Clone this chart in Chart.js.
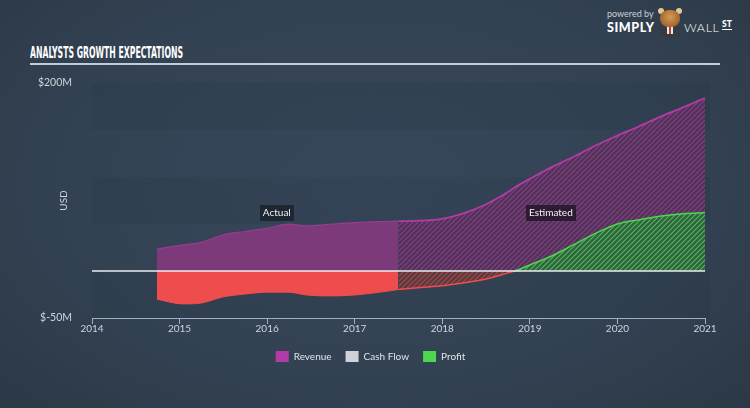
<!DOCTYPE html>
<html>
<head>
<meta charset="utf-8">
<script src="https://cdn.jsdelivr.net/npm/chart.js@4.4.1/dist/chart.umd.min.js"></script>
<style>
  html, body { margin: 0; padding: 0; }
  body {
    width: 750px; height: 408px; overflow: hidden; position: relative;
    background: radial-gradient(ellipse 75% 85% at 50% 45%, #37475a 0%, #334253 55%, #2a3743 100%);
    font-family: Lato, sans-serif;
  }
  #title {
    position: absolute; left: 30px; top: 43px; color: #fff; white-space: nowrap;
    font: bold 16px "Liberation Sans Narrow", "DejaVu Sans Condensed", sans-serif;
    transform-origin: 0 0;
  }
  #rule { position: absolute; left: 30px; top: 63px; width: 690px; height: 2px; background: #c3cbd4; }
  #logo { position: absolute; left: 607px; top: 6px; width: 140px; height: 34px; color: #fff; }
  #logo .pb { position: absolute; left: 0; top: 2px; font-size: 9px; color: #c9d0d8; }
  #logo .simply { position: absolute; left: 0; top: 14px; font: 900 12.5px Lato, sans-serif; letter-spacing: 0.6px; }
  #logo .wall { position: absolute; left: 77px; top: 14px; font: 300 12.5px Lato, sans-serif; letter-spacing: 0.6px; }
  #logo .st { position: absolute; left: 115px; top: 14px; font: 900 8.5px Lato, sans-serif; border-bottom: 1px solid #fff; line-height: 9px; }
  #logo .horn { position: absolute; top: 2px; width: 6px; height: 6px; border-radius: 50%; background: #e2c9a0; }
  #logo .head { position: absolute; left: 53px; top: 4px; width: 20px; height: 17px; border-radius: 45%; background: radial-gradient(circle at 50% 40%, #d49a55 0%, #a86a30 65%, #74461f 100%); }
  #logo .body { position: absolute; left: 53px; top: 19px; width: 20px; height: 12px; border-radius: 9px 9px 4px 4px; background: #353a43; }
  #logo .shirt { position: absolute; left: 60px; top: 19px; width: 6px; height: 9px; background: #e8e8e8; }
  #logo .tie { position: absolute; left: 62px; top: 20px; width: 2px; height: 8px; background: #c0392b; }
  #c { position: absolute; left: 0; top: 0; }
</style>
</head>
<body>
<div id="title">ANALYSTS GROWTH EXPECTATIONS</div>
<div id="rule"></div>
<div id="logo">
  <span class="pb">powered by</span>
  <span class="simply">SIMPLY</span>
  <div class="body"></div><div class="shirt"></div><div class="tie"></div>
  <div class="horn" style="left:51px"></div><div class="horn" style="left:69px"></div>
  <div class="head"></div>
  <span class="wall">WALL</span>
  <span class="st">ST</span>
</div>
<canvas id="c" width="750" height="408"></canvas>
<script>
// reported figures (USD millions)
const actualYears = [2014.74, 2015.04, 2015.25, 2015.5, 2015.75, 2016.0, 2016.25, 2016.45, 2016.75, 2017.0, 2017.25, 2017.5];
const revenueActual = [23.4, 27.7, 30.5, 38.5, 42, 45.5, 49.8, 48, 50, 51.5, 52.5, 53];
const profitActual = [-30, -35, -34, -27.5, -24.5, -22.5, -22.6, -25.5, -26.5, -25.5, -23, -19.6];

// analyst estimates
const estYears = [2017.5, 2017.75, 2018.0, 2018.25, 2018.5, 2018.75, 2018.83, 2019.0, 2019.25, 2019.5, 2019.75, 2020.0, 2020.25, 2020.5, 2020.75, 2021.0];
const revenueEst = [53, 53.5, 55.5, 61.5, 71, 84, 89, 98, 110.5, 121.5, 133.5, 144, 154, 164.5, 174, 184];
const profitEst = [-19.6, -17.6, -15.7, -12.5, -8.5, -2, 0, 6.4, 16, 28, 40, 50, 54.5, 58.5, 61, 62];
const cashFlow = [];

const legendNames = ["Revenue", "Cash Flow", "Profit"];
const yLabelValues = [200, -50];

const MAGENTA = "#b23ca6";
const PURPLE = "#7c3a7a";
const RED = "#ef4d4d";
const GREEN = "#4fd64f";
const GREY = "#cfd2d6";

// fit the condensed title to its width
const t = document.getElementById("title");
t.style.transform = "scaleX(" + (153 / t.scrollWidth) + ")";

const canvas = document.getElementById("c");
const ctx = canvas.getContext("2d");

function hatch(base, stripe) {
  const s = 5;
  const p = document.createElement("canvas");
  p.width = p.height = s;
  const g = p.getContext("2d");
  g.fillStyle = base;
  g.fillRect(0, 0, s, s);
  g.strokeStyle = stripe;
  g.lineWidth = 1.1;
  g.beginPath();
  g.moveTo(0, s); g.lineTo(s, 0);
  g.moveTo(-1, 1); g.lineTo(1, -1);
  g.moveTo(s - 1, s + 1); g.lineTo(s + 1, s - 1);
  g.stroke();
  return ctx.createPattern(p, "repeat");
}

const purpleHatch = hatch("#56305c", "#7d477d");
const redHatch = hatch("#5a3a3e", "#a84a4c");
const greenHatch = hatch("#2f6440", "#55b85a");

const pts = (xs, ys) => ys.map((y, i) => ({ x: xs[i], y }));

const bands = {
  id: "bands",
  beforeDatasetsDraw(chart) {
    const { ctx, chartArea: a, scales: { y } } = chart;
    ctx.save();
    [[200, 150], [100, 50], [0, -50]].forEach(([hi, lo]) => {
      const top = y.getPixelForValue(hi), bot = y.getPixelForValue(lo);
      ctx.fillStyle = "rgba(0,0,0,0.045)";
      ctx.fillRect(a.left, top, a.right - a.left + 5, bot - top);
    });
    ctx.restore();
  }
};

const overlay = {
  id: "overlay",
  afterDatasetsDraw(chart) {
    const { ctx, chartArea: a, scales: { x, y } } = chart;
    const y0 = y.getPixelForValue(0);
    ctx.save();
    ctx.strokeStyle = "#e8ecf0";
    ctx.lineWidth = 1.3;
    ctx.beginPath();
    ctx.moveTo(a.left, y0);
    ctx.lineTo(a.right, y0);
    ctx.stroke();

    ctx.font = "10px Lato, sans-serif";
    ctx.textAlign = "center";
    ctx.textBaseline = "middle";
    [["Actual", 2016.11, "#1d2631"], ["Estimated", 2019.24, "rgba(38,22,42,0.85)"]].forEach(([txt, xv, bg]) => {
      const cx = x.getPixelForValue(xv), cy = y.getPixelForValue(62);
      const w = ctx.measureText(txt).width + 6;
      ctx.fillStyle = bg;
      ctx.fillRect(Math.round(cx - w / 2), Math.round(cy - 8), Math.round(w), 16);
      ctx.fillStyle = "#f2f2f2";
      ctx.fillText(txt, cx, cy + 0.5);
    });
    ctx.restore();
  }
};

const chart = new Chart(canvas, {
  type: "line",
  data: {
    datasets: [
      {
        label: "Profit",
        data: pts(estYears, profitEst),
        borderColor: RED,
        borderWidth: 1.5,
        segment: { borderColor: (c) => (c.p1.parsed.y > 0 ? GREEN : RED) },
        fill: { target: "origin", above: greenHatch, below: redHatch },
        pointRadius: 0,
        cubicInterpolationMode: "monotone",
      },
      {
        label: "Profit",
        data: pts(actualYears, profitActual),
        borderColor: RED,
        borderWidth: 1,
        fill: { target: "origin", above: GREEN, below: RED },
        pointRadius: 0,
        cubicInterpolationMode: "monotone",
      },
      {
        label: "Revenue",
        data: pts(estYears, revenueEst),
        borderColor: MAGENTA,
        borderWidth: 1.8,
        backgroundColor: purpleHatch,
        fill: "origin",
        pointRadius: 0,
        cubicInterpolationMode: "monotone",
      },
      {
        label: "Revenue",
        data: pts(actualYears, revenueActual),
        borderColor: "#973c92",
        borderWidth: 1.2,
        backgroundColor: PURPLE,
        fill: "origin",
        pointRadius: 0,
        cubicInterpolationMode: "monotone",
      },
      { label: "Cash Flow", data: cashFlow, borderColor: GREY, pointRadius: 0 },
    ],
  },
  options: {
    responsive: false,
    animation: false,
    layout: { padding: { left: 36, right: 45, top: 83, bottom: 30 } },
    plugins: {
      tooltip: { enabled: false },
      legend: {
        position: "bottom",
        labels: {
          boxWidth: 13,
          boxHeight: 11,
          padding: 14,
          font: { family: "Lato", size: 10 },
          generateLabels: () =>
            legendNames.map((name, i) => {
              const col = [MAGENTA, GREY, GREEN][i];
              return { text: name, fillStyle: col, strokeStyle: col, lineWidth: 0, hidden: false, fontColor: "#dfe4ea", datasetIndex: i };
            }),
        },
      },
    },
    scales: {
      x: {
        type: "linear",
        min: 2014,
        max: 2021,
        ticks: {
          stepSize: 1,
          color: "#cdd5de",
          padding: -1,
          font: { family: "Lato", size: 10 },
          callback: (v) => String(v),
        },
        grid: { drawOnChartArea: false, drawTicks: true, tickLength: 6, color: "#9fb0c0" },
        border: { color: "#9fb0c0", width: 1 },
        afterFit: (s) => { s.height = 19; },
      },
      y: {
        min: -50,
        max: 200,
        ticks: {
          stepSize: 50,
          color: "#cdd5de",
          padding: 12,
          font: { family: "Lato", size: 10.5 },
          callback: (v) => (yLabelValues.includes(v) ? (v < 0 ? "$-" + Math.abs(v) : "$" + v) + "M" : ""),
        },
        grid: { display: false },
        border: { display: false },
        title: {
          display: true,
          text: "USD",
          color: "#cdd5de",
          font: { family: "Lato", size: 10 },
          padding: { top: 22, bottom: 0 },
        },
        afterFit: (s) => { s.width = 56; },
      },
    },
  },
  plugins: [bands, overlay],
});

// pin the plot floor to the reference position
const diff = chart.chartArea.bottom - 318;
if (Math.abs(diff) > 0.5) {
  chart.options.layout.padding.bottom += diff;
  chart.update();
}
</script>
</body>
</html>
